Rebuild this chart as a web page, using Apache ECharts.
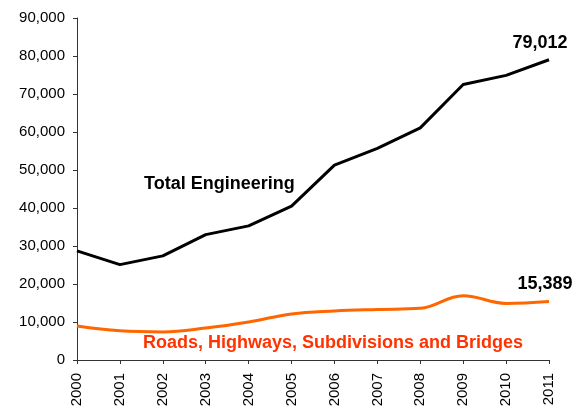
<!DOCTYPE html>
<html>
<head>
<meta charset="utf-8">
<script src="https://cdn.jsdelivr.net/npm/echarts@6/dist/echarts.min.js"></script>
<style>
  html, body { margin: 0; padding: 0; background: #fff; }
  #chart { width: 578px; height: 412px; }
</style>
</head>
<body>
<div id="chart"></div>
<script>
const years = ['2000', '2001', '2002', '2003', '2004', '2005', '2006', '2007', '2008', '2009', '2010', '2011']
const totalEngineering = [28700, 25100, 27400, 33000, 35300, 40500, 51300, 55700, 61100, 72500, 74900, 79012]
const roadsBridges = [8950, 7700, 7400, 8400, 10000, 12100, 12900, 13300, 13600, 16900, 14900, 15389]

const font = '"Liberation Sans", Arial, sans-serif'

const chart = echarts.init(document.getElementById('chart'))

// value written above the last point of a line
function endLabel (offset) {
  return {
    show: true,
    formatter: p => echarts.format.addCommas(p.value),
    align: 'center',
    verticalAlign: 'bottom',
    distance: 0,
    offset: offset,
    fontSize: 18,
    fontWeight: 'bold',
    color: '#000',
    fontFamily: font
  }
}

chart.setOption({
  animation: false,
  grid: { left: 77, right: 29, top: 18, bottom: 52 },
  xAxis: {
    type: 'category',
    data: years,
    boundaryGap: false,
    axisLine: { lineStyle: { color: '#333', width: 1 } },
    axisTick: { show: true, length: 4, lineStyle: { color: '#333' } },
    axisLabel: { rotate: 90, fontSize: 15, color: '#000', fontFamily: font, margin: 13 }
  },
  yAxis: {
    type: 'value',
    min: 0,
    max: 90000,
    interval: 10000,
    splitLine: { show: false },
    axisLine: { show: true, lineStyle: { color: '#333', width: 1 } },
    axisTick: { show: true, length: 4, lineStyle: { color: '#333' } },
    axisLabel: {
      fontSize: 15,
      color: '#000',
      fontFamily: font,
      margin: 12,
      formatter: v => echarts.format.addCommas(v)
    }
  },
  series: [
    {
      name: 'Total Engineering',
      type: 'line',
      data: totalEngineering,
      symbol: 'none',
      lineStyle: { color: '#000', width: 3 },
      endLabel: endLabel([-9, -8])
    },
    {
      name: 'Roads, Highways, Subdivisions and Bridges',
      type: 'line',
      data: roadsBridges,
      symbol: 'none',
      smooth: 0.4,
      lineStyle: { color: '#FF6600', width: 3 },
      endLabel: endLabel([-4, -8])
    }
  ],
  graphic: [
    {
      type: 'text',
      left: 144,
      top: 175,
      style: { text: 'Total Engineering', fontSize: 18, fontWeight: 'bold', fill: '#000', fontFamily: font }
    },
    {
      type: 'text',
      left: 143,
      top: 334,
      style: { text: 'Roads, Highways, Subdivisions and Bridges', fontSize: 18, fontWeight: 'bold', fill: '#FF3300', fontFamily: font }
    }
  ]
})

window.addEventListener('resize', () => {
  chart.resize()
})
</script>
</body>
</html>
